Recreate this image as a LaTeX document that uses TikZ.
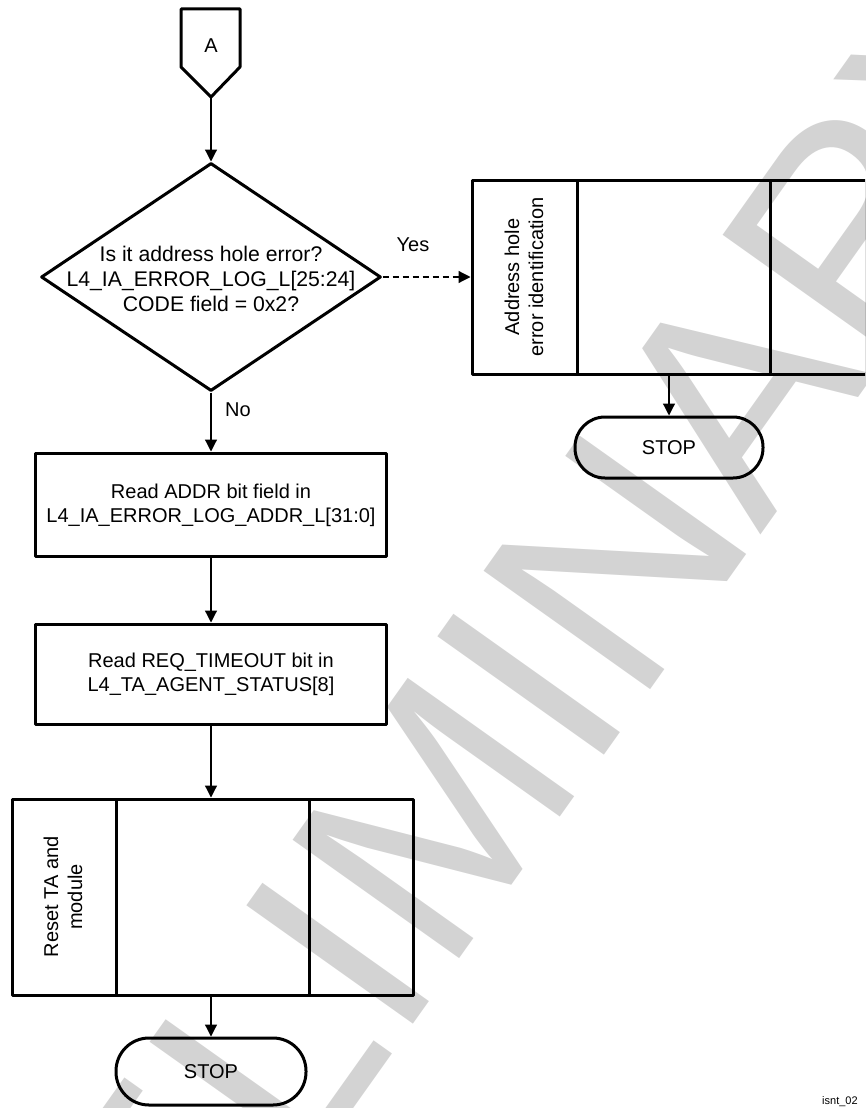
\documentclass[tikz,border=0pt]{standalone}
\usepackage{fontspec}
\setmainfont{Liberation Sans}
\usetikzlibrary{arrows.meta,shapes.geometric}
\definecolor{wm}{RGB}{211,211,211}
\begin{document}
\begin{tikzpicture}[x=1pt,y=-1pt,
  thick3/.style={draw, line width=3pt, line join=round},
  box/.style={thick3, rectangle, inner sep=0pt},
  term/.style={thick3, rectangle, rounded corners=30pt, inner sep=0pt},
  lbl/.style={font=\fontsize{20}{24}\selectfont, align=center, inner sep=0pt},
  dlbl/.style={lbl, font=\fontsize{21.2}{25}\selectfont},
  conn/.style={line width=1.2pt, -{Triangle[length=12pt,width=12pt]}},
  dconn/.style={conn, dash pattern=on 6pt off 4pt}]
\clip (0,0) rectangle (865,1108);
\useasboundingbox (0,0) rectangle (865,1108);
% watermark
\node[rotate=54.6, anchor=base, inner sep=0pt, text=wm,
      font=\fontsize{297}{300}\selectfont] (wmark) at (530,860) {PRELIMINARY};
% off-page connector A
\coordinate (Atip) at (211,97);
\draw[thick3] (181,9) -- (240,9) -- (240,67) -- (Atip) -- (181,67) -- cycle;
\node[lbl] (A) at (211,46) {A};
% decision
\node[thick3, diamond, minimum width=340pt, minimum height=228pt, inner sep=0pt] (dec) at (211,277) {};
\node[dlbl] (dectext) at (211,279) {Is it address hole error?\\L4\_IA\_ERROR\_LOG\_L[25:24]\\CODE field = 0x2?};
% address hole box
\node[box, minimum width=394pt, minimum height=194pt] (addr) at (669,277) {};
\draw[thick3] (577,180) -- (577,374);
\draw[thick3] (770,180) -- (770,374);
\node[lbl, rotate=90] (addrtext) at (524,277) {Address hole\\error identification};
\node[term, minimum width=188pt, minimum height=61pt] (stop1) at (669,447.5) {};
\node[lbl] (stop1text) at (669,448) {STOP};
% main column
\node[box, minimum width=351pt, minimum height=103pt] (b1) at (211,504.5) {};
\node[lbl] (b1text) at (211,505) {Read ADDR bit field in\\L4\_IA\_ERROR\_LOG\_ADDR\_L[31:0]};
\node[box, minimum width=351pt, minimum height=100pt] (b2) at (211,674) {};
\node[lbl] (b2text) at (211,674) {Read REQ\_TIMEOUT bit in\\L4\_TA\_AGENT\_STATUS[8]};
\node[box, minimum width=401pt, minimum height=196pt] (reset) at (212.5,897) {};
\draw[thick3] (116,799) -- (116,995);
\draw[thick3] (309,799) -- (309,995);
\node[lbl, rotate=90] (resettext) at (63,897) {Reset TA and\\module};
\node[term, minimum width=190pt, minimum height=67pt, rounded corners=33pt] (stop2) at (211,1071.5) {};
\node[lbl] (stop2text) at (211,1072) {STOP};
% connectors
\draw[conn] (Atip) -- (dec.north);
\draw[dconn] (dec.east) -- (addr.west);
\node[lbl] (yes) at (413,245) {Yes};
\draw[conn] (dec.south) -- (b1.north);
\node[lbl] (no) at (238,410) {No};
\draw[conn] (b1.south) -- (b2.north);
\draw[conn] (b2.south) -- (reset.north -| b2.south);
\draw[conn] (reset.south -| stop2.north) -- (stop2.north);
\draw[conn] (addr.south) -- (stop1.north);
\node[anchor=base west, inner sep=0pt, font=\fontsize{11}{13}\selectfont] (fig) at (822,1104) {isnt\_02};
\end{tikzpicture}
\end{document}
